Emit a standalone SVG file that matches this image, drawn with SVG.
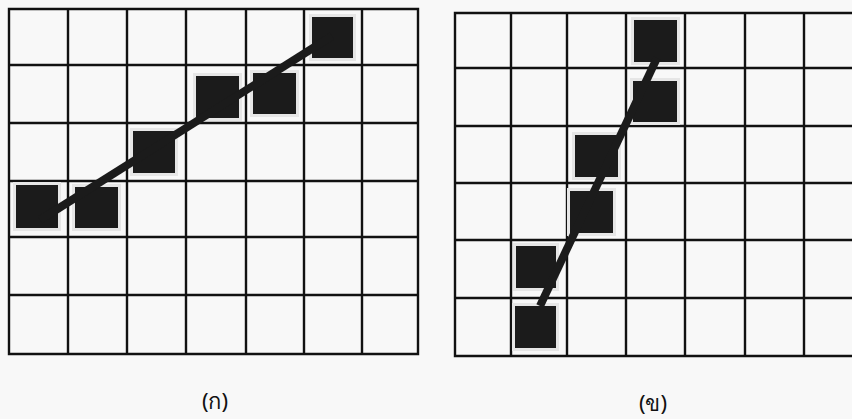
<svg xmlns="http://www.w3.org/2000/svg" width="852" height="419" viewBox="0 0 852 419">
<style>
.g{stroke:#111;stroke-width:2.4;fill:none;stroke-linecap:square}
.px{fill:#1b1b1b}
.halo{fill:#e6e6e6}
.ln{stroke:#1b1b1b;stroke-width:8;stroke-linecap:butt}
.lbl{font-family:"Noto Sans","Noto Sans CJK SC","DejaVu Sans",sans-serif;font-size:22px;fill:#111;text-anchor:middle}
</style>
<rect width="852" height="419" fill="#f8f8f8"/>
<g id="grid-a">
<path class="g" d="M9 9H418M9 65H418M9 123H418M9 181H418M9 237H418M9 295H418M9 354H418M9 9V354M68 9V354M127 9V354M186 9V354M246 9V354M304 9V354M362 9V354M418 9V354"/>
</g>
<g id="grid-b">
<path class="g" d="M455 13H852M455 68H852M455 126H852M455 183H852M455 240H852M455 298H852M455 356H852M455 13V356M511 13V356M567 13V356M626 13V356M685 13V356M745 13V356M804 13V356"/>
</g>
<g id="pixels-a">
<rect class="halo" x="13" y="182" width="48" height="49"/>
<rect class="halo" x="72" y="184" width="49" height="47"/>
<rect class="halo" x="130" y="128" width="48" height="48"/>
<rect class="halo" x="193" y="73" width="49" height="48"/>
<rect class="halo" x="250" y="70" width="49" height="47"/>
<rect class="halo" x="309" y="14" width="47" height="47"/>
<rect class="px" x="16" y="185" width="42" height="43"/>
<rect class="px" x="75" y="187" width="43" height="41"/>
<rect class="px" x="133" y="131" width="42" height="42"/>
<rect class="px" x="196" y="76" width="43" height="42"/>
<rect class="px" x="253" y="73" width="43" height="41"/>
<rect class="px" x="312" y="17" width="41" height="41"/>
</g>
<g id="pixels-b">
<rect class="halo" x="631" y="17" width="49" height="48"/>
<rect class="halo" x="630" y="78" width="50" height="47"/>
<rect class="halo" x="572" y="132" width="49" height="48"/>
<rect class="halo" x="567" y="188" width="49" height="48"/>
<rect class="halo" x="513" y="243" width="46" height="48"/>
<rect class="halo" x="512" y="303" width="47" height="48"/>
<rect class="px" x="634" y="20" width="43" height="42"/>
<rect class="px" x="633" y="81" width="44" height="41"/>
<rect class="px" x="575" y="135" width="43" height="42"/>
<rect class="px" x="570" y="191" width="43" height="42"/>
<rect class="px" x="516" y="246" width="40" height="42"/>
<rect class="px" x="515" y="306" width="41" height="42"/>
</g>
<g id="connectors">
<line class="ln" x1="40" y1="220" x2="332" y2="36"/>
<line class="ln" x1="540" y1="306" x2="657" y2="58"/>
</g>
<g id="label-a"><text class="lbl" x="215" y="409">(ก)</text></g>
<g id="label-b"><text class="lbl" x="653" y="411">(ข)</text></g>
</svg>
